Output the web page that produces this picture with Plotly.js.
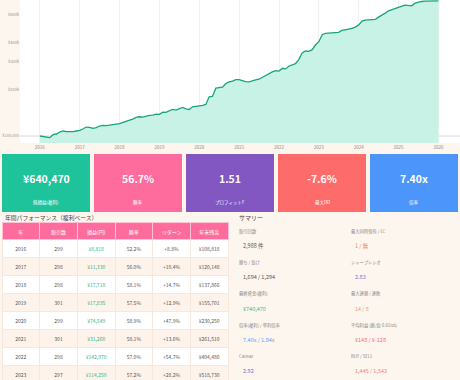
<!DOCTYPE html>
<html><head><meta charset="utf-8">
<script src="https://cdn.plot.ly/plotly-3.0.1.min.js"></script>
<style>html,body{margin:0;padding:0;width:460px;height:380px;overflow:hidden;background:#fdf6ef}#c{width:460px;height:400px}</style>
</head><body><div id="c"></div>
<script>
// ---- data ----
const INITIAL = 100000;
const years = [2016,2017,2018,2019,2020,2021,2022,2023,2024,2025];
const eq2016 = [100000, 99000, 98000, 97600, 102000, 103000, 106100, 107700, 106600, 106100, 106600, 107700];
const eq2017 = [108818, 111400, 114200, 113700, 112000, 113100, 115900, 117100, 116500, 117600, 118200, 119400];
const eq2018 = [120148, 122400, 124200, 125400, 128500, 131700, 133000, 132400, 134300, 135700, 136400, 138300];
const eq2019 = [137866, 142500, 141800, 144600, 148200, 146800, 150400, 152700, 149700, 148200, 154200, 154900];
const eq2020 = [155701, 157300, 159600, 178700, 179600, 203100, 205100, 206100, 217600, 223000, 225200, 230800];
const eq2021 = [230250, 226300, 224100, 223000, 227400, 229700, 231900, 238900, 246100, 252200, 258400, 263600];
const eq2022 = [261510, 272800, 270200, 281000, 288000, 292300, 310100, 342100, 352400, 350600, 359400, 384900];
const eq2023 = [404480, 448400, 457300, 459600, 459600, 461900, 464200, 478100, 485200, 487600, 492400, 502100];
const eq2024 = [518730, 548600, 556800, 559500, 558500, 562300, 582000, 596500, 617400, 639100, 651800, 658300];
const eq2025 = [674600, 684600, 694800, 691400, 688100, 715600, 726200, 733500, 737100, 736000, 737100, 739500];
const eqFinal = 740470;
const yTickVals = [100000, 200000, 300000, 400000, 600000];
const yTickText = ['¥100,000', '¥200k', '¥300k', '¥400k', '¥600k'];

const kpiValues = ['¥640,470', '56.7%', '1.51', '-7.6%', '7.40x'];
const kpiLabels = ['純損益(複利)', '勝率', 'プロフィットF', '最大DD', '倍率'];
const kpiColors = ['#1fc39b', '#fd6c9d', '#8257c1', '#fe6b6b', '#4b95fb'];

const tblHeader = ['年', '取引数', '損益(円)', '勝率', 'リターン', '年末残高'];
const tblYear = ['2016','2017','2018','2019','2020','2021','2022','2023'];
const tblTrades = ['299','298','298','301','299','301','298','297'];
const tblPnl = ['¥8,818','¥11,330','¥17,718','¥17,835','¥74,549','¥31,260','¥142,970','¥114,250'];
const tblWin = ['52.2%','56.0%','58.1%','57.5%','58.9%','58.1%','57.0%','57.2%'];
const tblRet = ['+8.8%','+10.4%','+14.7%','+12.9%','+47.9%','+13.6%','+54.7%','+28.2%'];
const tblBal = ['¥108,818','¥120,148','¥137,866','¥155,701','¥230,250','¥261,510','¥404,480','¥518,730'];

const sumLabelsL = ['取引回数', '勝ち / 負け', '最終資金(複利)', '倍率(複利) / 単利倍率', 'Calmar'];
const sumValuesL = ['2,988 件', '1,694 / 1,294', '¥740,470', '7.40x / 1.84x', '2.92'];
const sumColorsL = ['#555555', '#555555', '#2fbf90', '#5a9cf2', '#7a6cc0'];
const sumLabelsR = ['最大同時保有 / LC', 'シャープレシオ', '最大連勝 / 連敗', '平均利益 (勝/負 0.01lot)', 'BUY / SELL'];
const sumValuesR = ['1 / 無', '2.83', '14 / 8', '¥148 / ¥-128', '1,445 / 1,543'];
const sumColorsR = ['#f5846c', '#8a6bc8', '#f79a7c', '#f26d8e', '#f47d8c'];

// ---- build ----
const W = 460, H = 400;
const px = x => x / W, py = y => 1 - y / H;
const FONT = '"Noto Sans CJK JP", "Noto Sans", sans-serif';

const eqSeries = [eq2016,eq2017,eq2018,eq2019,eq2020,eq2021,eq2022,eq2023,eq2024,eq2025];
const dates = [], equity = [];
years.forEach((yr, i) => {
  eqSeries[i].forEach((v, m) => {
    dates.push(yr + '-' + String(m + 1).padStart(2, '0') + '-01');
    equity.push(v);
  });
});
dates.push('2026-01-01'); equity.push(eqFinal);

const traces = [{
  type: 'scatter', mode: 'lines', x: dates, y: equity,
  line: {color: '#17a47f', width: 1.3}, fill: 'tozeroy', fillcolor: '#c9f2e6',
  hoverinfo: 'skip'
}];

const rowColors = tblYear.map((_, i) => i % 2 === 0 ? '#ffffff' : '#fdf3ea');
traces.push({
  type: 'table',
  domain: {x: [px(2), px(228)], y: [py(398), py(222)]},
  columnwidth: [1,1,1,1,1,1],
  header: {values: tblHeader, fill: {color: '#fd6c9d'}, font: {color: '#ffffff', size: 5, family: FONT},
           height: 17, align: 'center', line: {color: '#ffc2d6', width: 1}},
  cells: {values: [tblYear, tblTrades, tblPnl, tblWin, tblRet, tblBal],
          height: 18, align: 'center',
          fill: {color: tblHeader.map(() => rowColors)},
          font: {size: 5, family: FONT, color: ['#555','#555','#2db58c','#555','#555','#555']},
          line: {color: '#f5e8de', width: 1}}
});

const shapes = [{
  type: 'line', xref: 'x domain', yref: 'y', x0: 0, x1: 1, y0: INITIAL, y1: INITIAL,
  line: {color: '#d9d9d9', width: 1}, layer: 'below'
}];
const annotations = [];
const cardX = [2, 94, 186, 278, 370], cardW = 88;
kpiValues.forEach((v, i) => {
  shapes.push({type: 'rect', xref: 'paper', yref: 'paper',
    x0: px(cardX[i]), x1: px(cardX[i] + cardW), y0: py(212), y1: py(154),
    fillcolor: kpiColors[i], line: {width: 0}});
  annotations.push({xref: 'paper', yref: 'paper', x: px(cardX[i] + cardW / 2), y: py(178),
    text: '<b>' + v + '</b>', showarrow: false, xanchor: 'center', yanchor: 'middle',
    font: {size: 10.5, color: '#fdfdfd', family: FONT}});
  annotations.push({xref: 'paper', yref: 'paper', x: px(cardX[i] + cardW / 2), y: py(203),
    text: kpiLabels[i], showarrow: false, xanchor: 'center', yanchor: 'middle',
    font: {size: 4.5, color: '#ffffff', family: FONT}});
});
annotations.push({xref: 'paper', yref: 'paper', x: px(3), y: py(217), text: '年間パフォーマンス（複利ベース）',
  showarrow: false, xanchor: 'left', yanchor: 'middle', font: {size: 5.8, color: '#444', family: FONT}});
annotations.push({xref: 'paper', yref: 'paper', x: px(237), y: py(217), text: 'サマリー',
  showarrow: false, xanchor: 'left', yanchor: 'middle', font: {size: 6, color: '#444', family: FONT}});

const labY = [231, 262, 293, 325, 356], valY = [246, 277, 309, 340, 371];
function addCol(labels, values, colors, xl, xv) {
  labels.forEach((t, i) => {
    annotations.push({xref: 'paper', yref: 'paper', x: px(xl), y: py(labY[i]), text: t, showarrow: false,
      xanchor: 'left', yanchor: 'middle', font: {size: 4.3, color: '#888', family: FONT}});
    annotations.push({xref: 'paper', yref: 'paper', x: px(xv), y: py(valY[i]), text: values[i], showarrow: false,
      xanchor: 'left', yanchor: 'middle', font: {size: 5.5, color: colors[i], family: FONT}});
  });
}
addCol(sumLabelsL, sumValuesL, sumColorsL, 237, 241);
addCol(sumLabelsR, sumValuesR, sumColorsR, 349, 353);

const layout = {
  width: W, height: H, margin: {l: 0, r: 0, t: 0, b: 0, pad: 0},
  paper_bgcolor: '#fdf6ef', plot_bgcolor: '#ffffff', showlegend: false,
  font: {family: FONT, size: 5, color: '#666'},
  xaxis: {domain: [px(20), 1], type: 'date', range: ['2015-07-03', '2026-07-18'],
    dtick: 'M12', tick0: '2016-01-01', tickformat: '%Y', showgrid: true, gridcolor: '#f0f0f0',
    zeroline: false, showline: false, ticks: '', tickfont: {size: 4.5, color: '#888'},
    automargin: false, fixedrange: true},
  yaxis: {domain: [py(143), 1], type: 'log', range: [4.955, 5.875],
    tickvals: yTickVals, ticktext: yTickText, showgrid: false, zeroline: false, showline: false,
    ticks: '', tickfont: {size: 4, color: '#999'}, automargin: false, fixedrange: true},
  shapes: shapes, annotations: annotations
};
Plotly.newPlot('c', traces, layout, {staticPlot: true, displayModeBar: false});
</script></body></html>
